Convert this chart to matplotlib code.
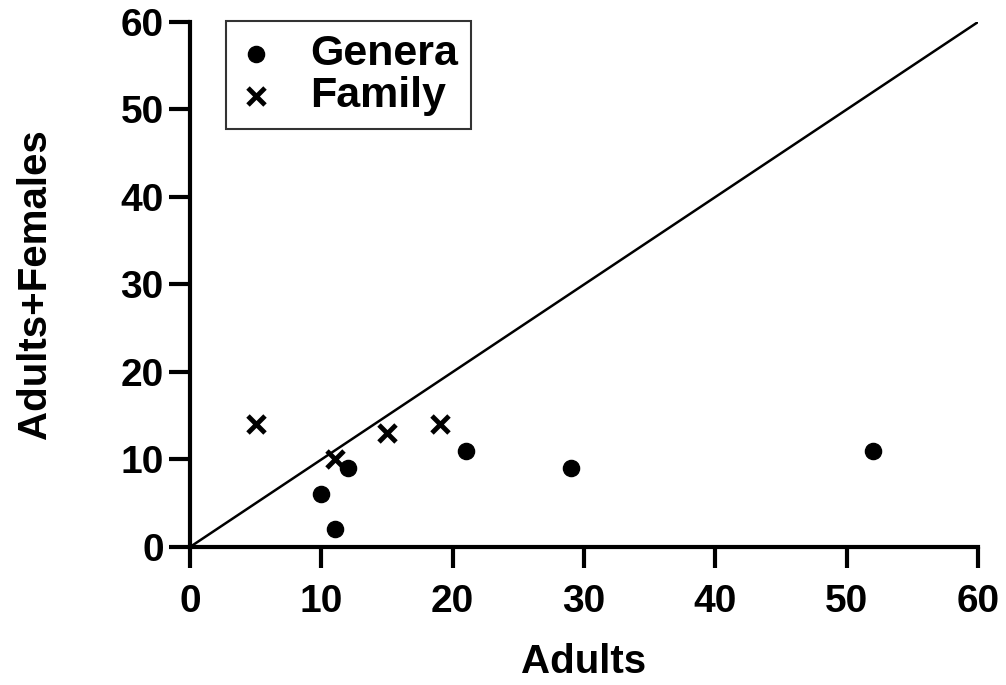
import matplotlib
matplotlib.use("Agg")
import matplotlib.pyplot as plt

plt.rcParams['font.family'] = ['Liberation Sans', 'DejaVu Sans']
plt.rcParams['font.weight'] = 'bold'

genera_x = [10, 11, 12, 21, 29, 52]
genera_y = [6, 2, 9, 11, 9, 11]
family_x = [5, 11, 15, 19]
family_y = [14, 10, 13, 14]
ticks = [0, 10, 20, 30, 40, 50, 60]
line_x = [0, 60]
line_y = [0, 60]

fig = plt.figure(figsize=(10.06, 6.85), dpi=100)
ax = fig.add_axes([0.1889, 0.2015, 0.9722 - 0.1889, 0.9679 - 0.2015])

ax.plot(line_x, line_y, color='black', lw=1.8, zorder=1)
ax.scatter(genera_x, genera_y, s=135, marker='o', color='black', label='Genera', zorder=3)
ax.scatter(family_x, family_y, s=150, marker='x', color='black', linewidths=3.5, label='Family', zorder=3)

ax.set_xlim(0, 60)
ax.set_ylim(0, 60)
ax.set_xticks(ticks)
ax.set_yticks(ticks)
ax.set_xticklabels([str(t) for t in ticks], fontsize=28, fontweight='bold')
ax.set_yticklabels([str(t) for t in ticks], fontsize=28, fontweight='bold')
for s in ['top', 'right']:
    ax.spines[s].set_visible(False)
for s in ['left', 'bottom']:
    ax.spines[s].set_linewidth(3.0)
ax.tick_params(axis='both', direction='out', length=15, width=3.0)
ax.tick_params(axis='x', pad=12)
ax.tick_params(axis='y', pad=4)

ax.set_xlabel('Adults', fontsize=29, fontweight='bold', labelpad=16)
ax.set_ylabel('Adults+Females', fontsize=29, fontweight='bold', labelpad=48)

leg = ax.legend(loc='upper left', bbox_to_anchor=(0.046, 1.002), fontsize=31, frameon=True,
                fancybox=False, edgecolor='black', handletextpad=0.85, borderpad=0.3,
                labelspacing=0.05, handlelength=0.8, borderaxespad=0)
leg.get_frame().set_linewidth(1.5)
for t in leg.get_texts():
    t.set_fontweight('bold')

fig.savefig('out.png', dpi=100)
